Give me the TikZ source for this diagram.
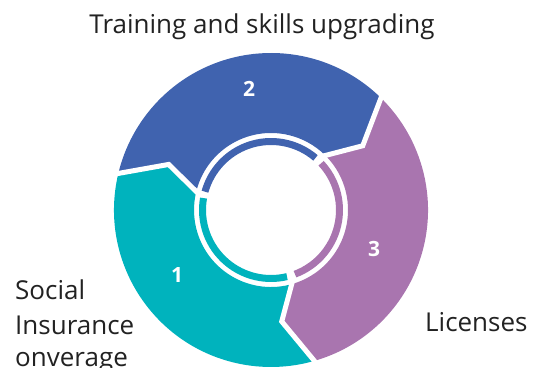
\documentclass[tikz,border=0pt]{standalone}
\usepackage{fontspec}
\setmainfont{Open Sans}
\definecolor{segteal}{HTML}{00B3BD}
\definecolor{segblue}{HTML}{4063AF}
\definecolor{segpurple}{HTML}{A975AF}
\definecolor{labelgray}{HTML}{222222}
\begin{document}
\begin{tikzpicture}[x=1pt,y=1pt,
  label text/.style={text=labelgray,inner sep=0pt,font=\fontsize{26}{35}\selectfont},
  step number/.style={text=white,inner sep=0pt,font=\fontsize{21}{25}\bfseries\selectfont},
  divider/.style={draw=white,line width=5pt,line join=miter},
  thin arc/.style={line width=7pt}]
\useasboundingbox (0,0) rectangle (541,367);
\def\Ro{157}\def\Ri{77}\def\Rm{112}\def\tip{11}
\begin{scope}[shift={(271,157)}]
  % thick ring: each segment carries a chevron tip pointing clockwise
  \fill[segblue] (46:\Ro) arc[start angle=46,end angle=167,radius=\Ro]
     -- (167-\tip:\Rm) -- (167:\Ri) arc[start angle=167,end angle=46,radius=\Ri]
     -- (46-\tip:\Rm) -- cycle;
  \fill[segteal] (167:\Ro) arc[start angle=167,end angle=286.5,radius=\Ro]
     -- (286.5-\tip:\Rm) -- (286.5:\Ri) arc[start angle=286.5,end angle=167,radius=\Ri]
     -- (167-\tip:\Rm) -- cycle;
  \fill[segpurple] (-73.5:\Ro) arc[start angle=-73.5,end angle=46,radius=\Ro]
     -- (46-\tip:\Rm) -- (46:\Ri) arc[start angle=46,end angle=-73.5,radius=\Ri]
     -- (-73.5-\tip:\Rm) -- cycle;
  % white gaps between the segments
  \coordinate (b1o) at (46:\Ro+3);   \coordinate (b1m) at (46-\tip:\Rm);   \coordinate (b1i) at (46:\Ri-2);
  \coordinate (b2o) at (167:\Ro+3);  \coordinate (b2m) at (167-\tip:\Rm);  \coordinate (b2i) at (167:\Ri-2);
  \coordinate (b3o) at (-73.5:\Ro+3);\coordinate (b3m) at (-73.5-\tip:\Rm);\coordinate (b3i) at (-73.5:\Ri-2);
  \draw[divider] (b1o) -- (b1m) -- (b1i);
  \draw[divider] (b2o) -- (b2m) -- (b2i);
  \draw[divider] (b3o) -- (b3m) -- (b3i);
  % thin inner ring
  \draw[thin arc,segblue] (49.5:68.5) arc[start angle=49.5,end angle=164.5,radius=68.5];
  \draw[thin arc,segteal] (170:68.5) arc[start angle=170,end angle=283.5,radius=68.5];
  \draw[thin arc,segpurple] (-69.5:68.5) arc[start angle=-69.5,end angle=43,radius=68.5];
\end{scope}
% step numbers
\node[step number] (n1) at (177,92) {1};
\node[step number] (n2) at (249,278) {2};
\node[step number] (n3) at (374,118) {3};
% captions
\node[label text,anchor=base] (title) at (262,333.7) {Training and skills upgrading};
\node[label text,anchor=base west] (lic) at (425,35.3) {Licenses};
\node[label text,anchor=base west] (soc1) at (15,67.7) {Social};
\node[label text,anchor=base west] (soc2) at (15,32.7) {Insurance};
\node[label text,anchor=base west] (soc3) at (15,0.8) {onverage};
\end{tikzpicture}
\end{document}
